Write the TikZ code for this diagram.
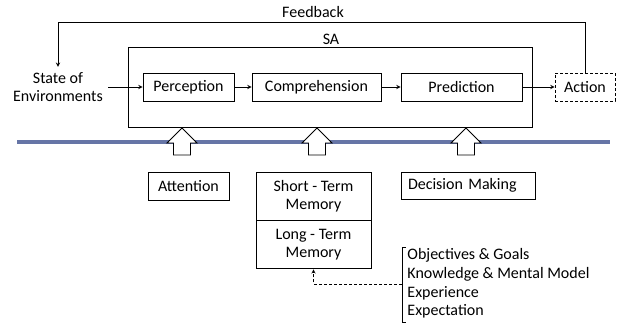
\documentclass[tikz,border=0pt]{standalone}
\usepackage{fontspec}
\setmainfont{Carlito}
\usetikzlibrary{positioning}
\definecolor{barblue}{RGB}{102,117,166}

\begin{document}
\begin{tikzpicture}[->,>=stealth,x=1pt,y=1pt,node distance=128pt,line width=0.9pt,
    font=\fontsize{16}{18.5}\selectfont,
    box/.style={rectangle,draw,minimum height=28pt,inner sep=2pt}]
                \useasboundingbox (0,0) rectangle (622,324);

                \node [align=center, inner sep=5pt](1) at (58,237){State of\\Environments};
                \node [box, minimum width=91pt](2) at (188.5,237){Perception};
                \node [box, minimum width=129pt](3) [right of=2]{Comprehension};
                \node [box, minimum width=121pt](4) [right of=3, xshift=17pt]{Prediction};
                \node [box, dash pattern=on 3pt off 2pt, minimum width=60pt](5) [right of=4, xshift=-4.5pt]{Action};

                \node [rectangle, draw, minimum width=404pt, minimum height=80pt](6) at (330,237){};
                \node (7) at (331,285){SA};
                \node (8) at (313,312){Feedback};

                % bar and block arrows
                \draw[-, barblue, line width=4.5pt] (17,182) -- (610,182);
                \foreach \x in {182,317,466}
                    \draw[-, fill=white] (\x,196) -- (\x+15,181) -- (\x+8.5,181) -- (\x+8.5,169)
                        -- (\x-8.5,169) -- (\x-8.5,181) -- (\x-15,181) -- cycle;

                \node [box, minimum width=81pt](9) [below of=2, yshift=29pt]{Attention};
                \node [box, align=center, minimum width=115pt, minimum height=48pt](10) at (313.5,128){Short - Term\\Memory};
                \node [box, align=center, minimum width=115pt, minimum height=48pt](11) [below=0pt of 10]{Long - Term\\Memory};
                \node [box, minimum width=134pt, minimum height=27pt, text width=120pt, align=left](12) at (468,138.5){Decision Making};

                \node [align=left, anchor=west, inner sep=0pt, font=\fontsize{16}{18.7}\selectfont](13) at (407,40.5){Objectives \& Goals\\Knowledge \& Mental Model\\Experience\\Expectation};
                \draw[-] (406,77) -- (402,77) -- (402,2) -- (406,2);
                \coordinate (14) at (402,40);

                \path
                    (1) edge (2)
                    (2) edge (3)
                    (3) edge (4)
                    (4) edge (5)
                    ;
                \draw (5.north) -- ++(0,50) -| (1.north);
                \draw[dash pattern=on 3pt off 2pt] (14) -| (11.south);
            \end{tikzpicture}
\end{document}
